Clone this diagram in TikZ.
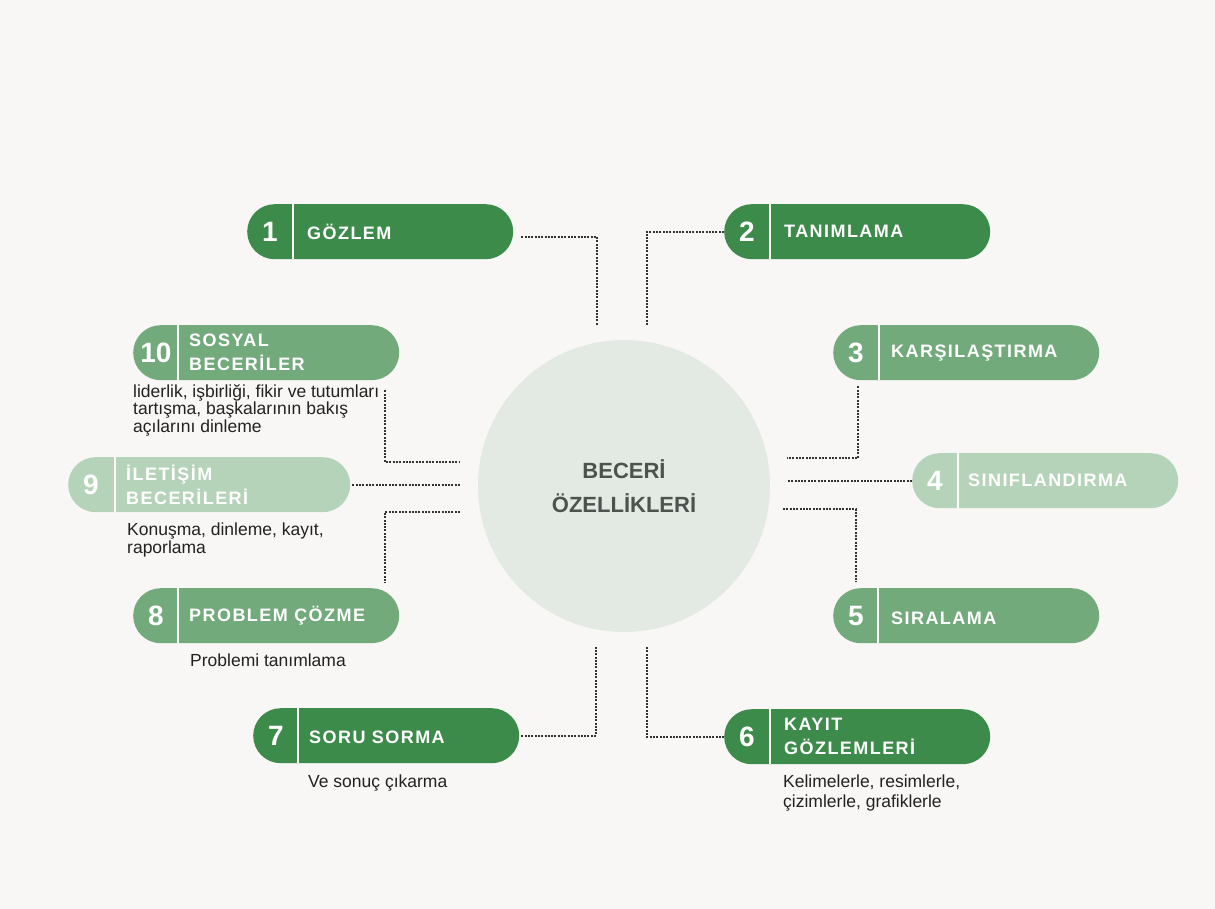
\documentclass[tikz,border=0pt]{standalone}
\usepackage{fontspec}
\setmainfont{Liberation Sans}
\newfontfamily\tagfont[LetterSpace=8]{Liberation Sans}
\usepackage{tikz}

\definecolor{paper}{RGB}{248,247,245}
\definecolor{hubfill}{RGB}{227,234,228}
\definecolor{leafdark}{RGB}{61,139,74}
\definecolor{leafmid}{RGB}{114,170,123}
\definecolor{leafpale}{RGB}{181,211,185}
\definecolor{ink}{RGB}{34,34,34}
\definecolor{hubtext}{RGB}{76,82,77}
\definecolor{dotgray}{RGB}{51,51,51}

\tikzset{
  pill/.style={rounded corners=27.5pt, minimum width=266pt, minimum height=55pt, inner sep=0pt, anchor=north west},
  divider/.style={white, line width=1.6pt},
  num/.style={text=white, inner sep=0pt, font=\bfseries\fontsize{28}{28}\selectfont},
  tag/.style={anchor=west, align=left, text=white, inner sep=0pt, font=\tagfont\bfseries\fontsize{18}{24}\selectfont},
  note/.style={anchor=north west, align=left, text=ink, inner sep=0pt, font=\fontsize{17.5}{17.5}\selectfont},
  link/.style={draw=dotgray, line width=2pt, dash pattern=on 2pt off 1.3pt}
}

\begin{document}
\begin{tikzpicture}[x=1pt,y=-1pt]
			\fill[paper] (0,0) rectangle (1215,909);
			\useasboundingbox (0,0) rectangle (1215,909);
			
			% hub in the middle
			\node[circle, fill=hubfill, minimum size=292pt, inner sep=0pt] (hub) at (624,486) {};
			\node[align=center, text=hubtext, font=\bfseries\fontsize{22}{34}\selectfont] (title) at (hub) {BECERİ\\ÖZELLİKLERİ};
			
			% loose ends of the dotted links, next to the hub
			\coordinate (e1) at (597,325);
			\coordinate (e2) at (647,325);
			\coordinate (e3) at (787,458);
			\coordinate (e4) at (787,480);
			\coordinate (e5) at (783,509);
			\coordinate (e6) at (647,647);
			\coordinate (e7) at (596,647);
			\coordinate (e8) at (460,512);
			\coordinate (e9) at (460,485);
			\coordinate (e10) at (460,462);
			
			% 1
			\node[pill, fill=leafdark] (p1) at (247,204) {};
			\draw[divider] ([xshift=46pt]p1.north west) -- ([xshift=46pt]p1.south west);
			\node[num] (n1) at ([xshift=23pt]p1.west) {1};
			\node[tag] (t1) at ([xshift=60pt]p1.west) {GÖZLEM};
			\draw[link] ([shift={(8,5)}]p1.east) -| (e1);
			
			% 2
			\node[pill, fill=leafdark] (p2) at (724,204) {};
			\draw[divider] ([xshift=46pt]p2.north west) -- ([xshift=46pt]p2.south west);
			\node[num] (n2) at ([xshift=23pt]p2.west) {2};
			\node[tag] (t2) at ([xshift=60pt]p2.west) {TANIMLAMA};
			\draw[link] (p2.west) -| (e2);
			
			% 3
			\node[pill, fill=leafmid] (p3) at (833,325) {};
			\draw[divider] ([xshift=46pt]p3.north west) -- ([xshift=46pt]p3.south west);
			\node[num] (n3) at ([xshift=23pt]p3.west) {3};
			\node[tag] (t3) at ([xshift=58pt]p3.west) {KARŞILAŞTIRMA};
			\draw[link] ([shift={(25,6)}]p3.south west) |- (e3);
			
			% 4
			\node[pill, fill=leafpale] (p4) at (912,453) {};
			\draw[divider] ([xshift=46pt]p4.north west) -- ([xshift=46pt]p4.south west);
			\node[num] (n4) at ([xshift=23pt]p4.west) {4};
			\node[tag] (t4) at ([xshift=56pt]p4.west) {SINIFLANDIRMA};
			\draw[link] (p4.west) -- (p4.west -| e4);
			
			% 5
			\node[pill, fill=leafmid] (p5) at (833,588) {};
			\draw[divider] ([xshift=45pt]p5.north west) -- ([xshift=45pt]p5.south west);
			\node[num] (n5) at ([xshift=23pt]p5.west) {5};
			\node[tag] (t5) at ([shift={(58,3)}]p5.west) {SIRALAMA};
			\draw[link] (e5) -| ([shift={(23,-6)}]p5.north west);
			
			% 6
			\node[pill, fill=leafdark] (p6) at (724,709) {};
			\draw[divider] ([xshift=46pt]p6.north west) -- ([xshift=46pt]p6.south west);
			\node[num] (n6) at ([xshift=23pt]p6.west) {6};
			\node[tag] (t6) at ([xshift=60pt]p6.west) {KAYIT\\GÖZLEMLERİ};
			\node[note, font=\fontsize{17.5}{20}\selectfont] (d6) at (783,775) {Kelimelerle, resimlerle,\\çizimlerle, grafiklerle};
			\draw[link] (e6) |- (p6.west);
			
			% 7
			\node[pill, fill=leafdark] (p7) at (253,708) {};
			\draw[divider] ([xshift=45pt]p7.north west) -- ([xshift=45pt]p7.south west);
			\node[num] (n7) at ([xshift=23pt]p7.west) {7};
			\node[tag] (t7) at ([shift={(56,2)}]p7.west) {SORU SORMA};
			\node[note] (d7) at (308,775) {Ve sonuç çıkarma};
			\draw[link] ([xshift=2pt]p7.east) -| (e7);
			
			% 8
			\node[pill, fill=leafmid] (p8) at (133,588) {};
			\draw[divider] ([xshift=45pt]p8.north west) -- ([xshift=45pt]p8.south west);
			\node[num] (n8) at ([xshift=23pt]p8.west) {8};
			\node[tag] (t8) at ([xshift=56pt]p8.west) {PROBLEM ÇÖZME};
			\node[note] (d8) at (190,654) {Problemi tanımlama};
			\draw[link] (e8) -| ([shift={(252,-5)}]p8.north west);
			
			% 9
			\node[pill, fill=leafpale, minimum width=282pt] (p9) at (68,457) {};
			\draw[divider] ([xshift=47pt]p9.north west) -- ([xshift=47pt]p9.south west);
			\node[num] (n9) at ([xshift=23pt]p9.west) {9};
			\node[tag] (t9) at ([xshift=58pt]p9.west) {İLETİŞİM\\BECERİLERİ};
			\node[note] (d9) at (127,523) {Konuşma, dinleme, kayıt,\\raporlama};
			\draw[link] ([xshift=2pt]p9.east) -- (p9.east -| e9);
			
			% 10
			\node[pill, fill=leafmid] (p10) at (133,325) {};
			\draw[divider] ([xshift=45pt]p10.north west) -- ([xshift=45pt]p10.south west);
			\node[num] (n10) at ([xshift=23pt]p10.west) {10};
			\node[tag] (t10) at ([xshift=56pt]p10.west) {SOSYAL\\BECERİLER};
			\node[note] (d10) at (133,384) {liderlik, işbirliği, fikir ve tutumları\\tartışma, başkalarının bakış\\açılarını dinleme};
			\draw[link] ([shift={(252,10)}]p10.south west) |- (e10);
			
		\end{tikzpicture}
\end{document}
